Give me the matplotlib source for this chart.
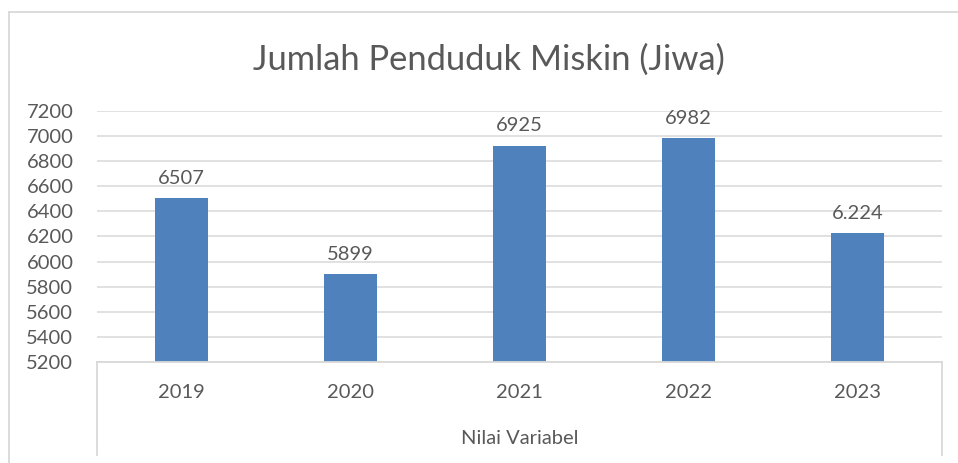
import matplotlib
matplotlib.use("Agg")
import matplotlib.pyplot as plt
from matplotlib.lines import Line2D

categories = ["2019", "2020", "2021", "2022", "2023"]
values = [6507, 5899, 6925, 6982, 6224]
value_labels = ["6507", "5899", "6925", "6982", "6.224"]
y_ticks = [5200, 5400, 5600, 5800, 6000, 6200, 6400, 6600, 6800, 7000, 7200]
title = "Jumlah Penduduk Miskin (Jiwa)"
axis_title = "Nilai Variabel"

plt.rcParams['font.family'] = ['Lato', 'DejaVu Sans']
W, H = 958, 463
fig = plt.figure(figsize=(W / 100, H / 100), dpi=100)
txt = "#595959"
grid = "#d9d9d9"
bar_color = "#4f81bd"

def fx(px):
    return px / W

def fy(py):
    return 1 - py / H

# outer chart border
fig.add_artist(Line2D([fx(9), fx(9)], [fy(12), fy(463)], transform=fig.transFigure, color=grid, lw=1.3))
fig.add_artist(Line2D([fx(9), fx(958)], [fy(12), fy(12)], transform=fig.transFigure, color=grid, lw=1.3))

left, right, top, bottom = 97, 942, 111, 362
ax = fig.add_axes([fx(left), fy(bottom), fx(right - left), (bottom - top) / H])
x = list(range(len(categories)))
ax.bar(x, values, width=0.31, color=bar_color, zorder=3, bottom=0)
ax.set_xlim(-0.5, len(categories) - 0.5)
ax.set_ylim(y_ticks[0], y_ticks[-1])
ax.set_yticks(y_ticks)
ax.set_yticklabels([str(t) for t in y_ticks], fontsize=14.5, color=txt)
ax.set_xticks(x)
ax.set_xticklabels(categories, fontsize=14.5, color=txt)
ax.tick_params(axis='both', length=0)
ax.tick_params(axis='y', pad=17)
ax.tick_params(axis='x', pad=16)
ax.grid(axis='y', color=grid, lw=1.1, zorder=0)
for s in ['top', 'right', 'left']:
    ax.spines[s].set_visible(False)
ax.spines['bottom'].set_color(grid)
ax.spines['bottom'].set_linewidth(1.3)
ax.spines['bottom'].set_zorder(4)

for xi, v, lab in zip(x, values, value_labels):
    ax.annotate(lab, (xi, v), xytext=(0, 8), textcoords='offset points',
                ha='center', va='bottom', fontsize=14.5, color=txt)

# vertical lines of the category axis area
for px in (left, right):
    fig.add_artist(Line2D([fx(px), fx(px)], [fy(bottom), fy(455)], transform=fig.transFigure, color=grid, lw=1.3))

fig.text(fx((left + right) / 2), fy(438), axis_title, ha='center', va='center', fontsize=14.5, color=txt)
fig.text(fx(489), fy(60), title, ha='center', va='center', fontsize=24.8, color=txt)

fig.savefig("out.png", dpi=100, facecolor="white")
